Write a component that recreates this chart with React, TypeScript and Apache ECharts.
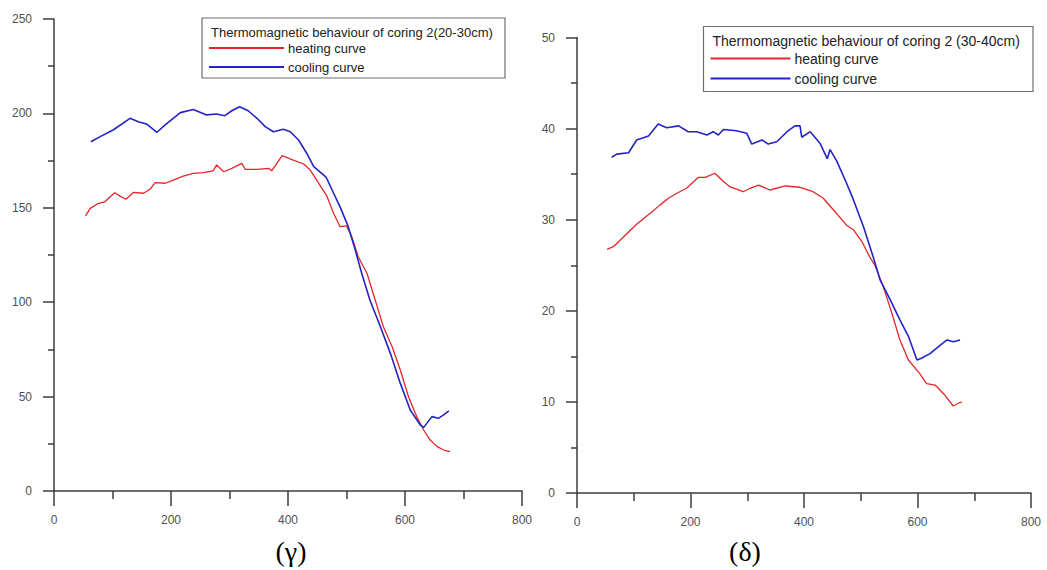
import React, { useEffect, useRef } from "react";
import * as echarts from "echarts";

// Temperature (°C) vs. magnetisation readings, coring 2 at 20-30 cm (γ)
const gammaHeating: [number, number][] = [
  [54, 145.7], [62, 149.7], [76, 152.4], [87, 153.2], [96, 155.9], [104, 158],
  [113, 156.2], [123, 154.5], [136, 158.2], [153, 157.7], [164, 159.8], [173, 163.3],
  [190, 163], [204, 164.7], [221, 166.8], [238, 168.2], [255, 168.6], [272, 169.6],
  [278, 172.7], [290, 169.1], [304, 170.9], [321, 173.5], [327, 170.3], [347, 170.3],
  [367, 170.9], [372, 169.6], [390, 177.6], [409, 175.3], [427, 173.2], [438, 170],
  [449, 164.7], [466, 156.5], [478, 147], [489, 140], [500, 140.4], [509, 134.7],
  [520, 124.1], [535, 115.3], [549, 101.2], [563, 87], [578, 76.4], [592, 64.1],
  [606, 49.9], [620, 39.4], [632, 32.3], [643, 27], [655, 23.5], [666, 21.7], [677, 20.8],
];
const gammaCooling: [number, number][] = [
  [63, 185], [79, 187.7], [101, 191.2], [130, 197.4], [144, 195.6], [158, 194.4],
  [176, 190], [190, 193.9], [216, 200.4], [238, 202.1], [261, 199.2], [278, 199.7],
  [292, 198.8], [304, 201.4], [317, 203.5], [332, 201.4], [347, 197.4], [361, 193],
  [375, 190.3], [392, 191.6], [404, 190.3], [418, 185.9], [432, 178.9], [444, 171.8],
  [465, 166.3], [478, 157.7], [489, 150.5], [503, 140], [515, 127.6], [526, 115.3],
  [540, 101.2], [558, 87], [575, 72.9], [592, 57], [609, 42.9], [626, 35], [632, 33.7],
  [646, 39.4], [657, 38.5], [666, 40.3], [675, 42.5],
];

// Coring 2 at 30-40 cm (δ)
const deltaHeating: [number, number][] = [
  [53, 26.75], [64, 27.04], [85, 28.3], [105, 29.5], [129, 30.7], [146, 31.6],
  [161, 32.35], [176, 32.9], [193, 33.45], [214, 34.65], [226, 34.65], [243, 35.1],
  [258, 34.2], [270, 33.6], [293, 33.07], [305, 33.45], [320, 33.8], [340, 33.26],
  [367, 33.7], [393, 33.56], [416, 33.07], [434, 32.35], [452, 31.06], [475, 29.4],
  [487, 28.9], [502, 27.6], [516, 25.9], [525, 25], [540, 22.6], [555, 19.7],
  [569, 16.8], [584, 14.6], [604, 13.1], [616, 12], [631, 11.85], [646, 10.9],
  [663, 9.55], [672, 9.85], [678, 10],
];
const deltaCooling: [number, number][] = [
  [61, 36.85], [70, 37.2], [91, 37.35], [105, 38.75], [126, 39.2], [143, 40.5],
  [158, 40.1], [179, 40.3], [196, 39.66], [211, 39.66], [229, 39.3], [240, 39.66],
  [249, 39.3], [258, 39.9], [281, 39.77], [299, 39.5], [308, 38.3], [326, 38.75],
  [337, 38.3], [352, 38.56], [370, 39.66], [384, 40.3], [393, 40.3], [396, 39.05],
  [411, 39.66], [428, 38.4], [441, 36.7], [446, 37.7], [458, 36.4], [475, 34],
  [487, 32.2], [505, 29.2], [522, 25.9], [534, 23.4], [552, 21.2], [569, 19],
  [584, 17.2], [599, 14.6], [607, 14.8], [622, 15.3], [637, 16.06], [652, 16.8],
  [663, 16.6], [675, 16.8],
];

const xRange = { min: 0, max: 800, interval: 200 };
const gammaY = { min: 0, max: 250, interval: 50 };
const deltaY = { min: 0, max: 50, interval: 10 };

const legendTitles = [
  "Thermomagnetic behaviour of coring 2(20-30cm)",
  "Thermomagnetic behaviour of coring 2 (30-40cm)",
];
const seriesNames = ["heating curve", "cooling curve"];
const panelCaptions = ["(γ)", "(δ)"];

const HEAT = "#e3262b";
const COOL = "#2323c6";
const AXIS = "#3c3c3c";
const FONT = "Liberation Sans, Arial, sans-serif";

function xAxis(gridIndex: number) {
  return {
    type: "value",
    gridIndex,
    ...xRange,
    axisLine: { show: true, onZero: false, lineStyle: { color: AXIS, width: 1.5 } },
    axisTick: { show: true, inside: false, length: 15, lineStyle: { color: AXIS, width: 1.5 } },
    minorTick: { show: true, splitNumber: 2, length: 8, lineStyle: { color: AXIS, width: 1.5 } },
    splitLine: { show: false },
    minorSplitLine: { show: false },
    axisLabel: { color: "#505050", fontSize: 12, fontFamily: FONT, margin: 23 },
  };
}

function yAxis(gridIndex: number, range: { min: number; max: number; interval: number }) {
  return {
    type: "value",
    gridIndex,
    ...range,
    axisLine: { show: true, onZero: false, lineStyle: { color: AXIS, width: 1.5 } },
    axisTick: { show: true, inside: false, length: 11, lineStyle: { color: AXIS, width: 1.5 } },
    minorTick: { show: true, splitNumber: 2, length: 6, lineStyle: { color: AXIS, width: 1.5 } },
    splitLine: { show: false },
    minorSplitLine: { show: false },
    axisLabel: { color: "#505050", fontSize: 12, fontFamily: FONT, margin: 22 },
  };
}

function legendBox(
  x: number, y: number, w: number, h: number, title: string,
  titleSize: number, itemSize: number, lineLen: number, row1Off: number, rowGap: number,
) {
  const lineX0 = x + 7;
  const lineX1 = lineX0 + lineLen;
  const row1 = y + row1Off;
  const text = (tx: number, ty: number, s: string, size: number) => ({
    type: "text",
    style: { x: tx, y: ty, text: s, fill: "#222", fontSize: size, fontFamily: FONT, verticalAlign: "middle" },
  });
  return {
    type: "group",
    children: [
      {
        type: "rect",
        shape: { x, y, width: w, height: h },
        style: { fill: "#fff", stroke: "#6e6e6e", lineWidth: 1.2 },
      },
      text(x + 9, y + 14, title, titleSize),
      { type: "line", shape: { x1: lineX0, y1: row1, x2: lineX1, y2: row1 }, style: { stroke: HEAT, lineWidth: 2 } },
      text(lineX1 + 4, row1, seriesNames[0], itemSize),
      { type: "line", shape: { x1: lineX0, y1: row1 + rowGap, x2: lineX1, y2: row1 + rowGap }, style: { stroke: COOL, lineWidth: 2 } },
      text(lineX1 + 4, row1 + rowGap, seriesNames[1], itemSize),
    ],
  };
}

function line(name: string, data: [number, number][], color: string, width: number, idx: number) {
  return {
    type: "line",
    name,
    data,
    xAxisIndex: idx,
    yAxisIndex: idx,
    showSymbol: false,
    symbol: "none",
    lineStyle: { color, width },
    itemStyle: { color },
    z: color === COOL ? 3 : 2,
  };
}

export default function App() {
  const ref = useRef<HTMLDivElement>(null);

  useEffect(() => {
    if (!ref.current) return;
    const chart = echarts.init(ref.current, null, { renderer: "svg" });
    chart.setOption({
      animation: false,
      backgroundColor: "#fff",
      grid: [
        { left: 54, right: 525, top: 19, bottom: 79 },
        { left: 577, right: 16, top: 37.5, bottom: 77 },
      ],
      xAxis: [xAxis(0), xAxis(1)],
      yAxis: [yAxis(0, gammaY), yAxis(1, deltaY)],
      series: [
        line(seriesNames[0], gammaHeating, HEAT, 1.3, 0),
        line(seriesNames[1], gammaCooling, COOL, 1.6, 0),
        line(seriesNames[0], deltaHeating, HEAT, 1.3, 1),
        line(seriesNames[1], deltaCooling, COOL, 1.6, 1),
      ],
      graphic: [
        legendBox(202, 18, 303, 60, legendTitles[0], 13, 13, 75, 30, 19),
        legendBox(703.5, 26.5, 329.5, 65, legendTitles[1], 14, 14, 80, 32, 20),
        {
          type: "text",
          style: {
            x: 291, y: 551, text: panelCaptions[0], fill: "#000", fontSize: 28,
            fontFamily: "Liberation Serif, Times New Roman, serif", align: "center", verticalAlign: "middle",
          },
        },
        {
          type: "text",
          style: {
            x: 745, y: 551, text: panelCaptions[1], fill: "#000", fontSize: 28,
            fontFamily: "Liberation Serif, Times New Roman, serif", align: "center", verticalAlign: "middle",
          },
        },
      ],
    });
    return () => chart.dispose();
  }, []);

  return (
    <div
      ref={ref}
      style={{ position: "absolute", left: 0, top: 0, width: 1047, height: 570, background: "#fff" }}
    />
  );
}
